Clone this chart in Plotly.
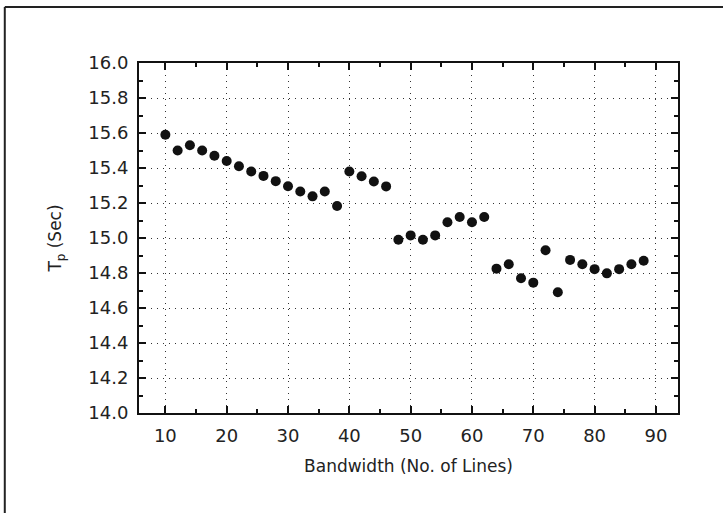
import plotly.graph_objects as go

bandwidth = [10, 12, 14, 16, 18, 20, 22, 24, 26, 28, 30, 32, 34, 36, 38,
             40, 42, 44, 46, 48, 50, 52, 54, 56, 58, 60, 62, 64, 66, 68,
             70, 72, 74, 76, 78, 80, 82, 84, 86, 88]
tp = [15.59, 15.50, 15.53, 15.50, 15.47, 15.44, 15.41, 15.38, 15.355, 15.325,
      15.296, 15.266, 15.238, 15.266, 15.183, 15.38, 15.353, 15.323, 15.295, 14.99,
      15.015, 14.99, 15.015, 15.09, 15.12, 15.09, 15.12, 14.825, 14.85, 14.77,
      14.745, 14.93, 14.69, 14.875, 14.85, 14.822, 14.798, 14.822, 14.85, 14.87]

x_ticks = [10, 20, 30, 40, 50, 60, 70, 80, 90]
y_ticks = [14.0, 14.2, 14.4, 14.6, 14.8, 15.0, 15.2, 15.4, 15.6, 15.8, 16.0]

fig = go.Figure()
fig.add_trace(go.Scatter(
    x=bandwidth, y=tp, mode="markers",
    marker=dict(color="#111111", size=10, line=dict(width=0)),
    showlegend=False,
))

tickfont = dict(family="DejaVu Sans", size=18, color="#222222")
titlefont = dict(family="DejaVu Sans", size=17, color="#222222")

common = dict(
    showline=True, linecolor="#111111", linewidth=2, mirror="allticks",
    ticks="inside", ticklen=7, tickcolor="#111111", tickwidth=1.5,
    showgrid=True, gridcolor="#333333", gridwidth=1, griddash="1px,5px",
    zeroline=False, tickfont=tickfont,
)

fig.update_xaxes(
    range=[5.7, 93.6], tickvals=x_ticks, ticktext=[str(v) for v in x_ticks],
    minor=dict(dtick=5, ticks="inside", ticklen=4, tickcolor="#111111", showgrid=False),
    ticklabelstandoff=5,
    title=dict(text="Bandwidth (No. of Lines)", font=titlefont, standoff=16),
    **common,
)
fig.update_yaxes(
    range=[14.0, 16.0], tickvals=y_ticks, ticktext=[f"{v:.1f}" for v in y_ticks],
    minor=dict(dtick=0.1, ticks="inside", ticklen=4, tickcolor="#111111", showgrid=False),
    ticklabelstandoff=5,
    title=dict(text="T<sub>p</sub> (Sec)", font=titlefont, standoff=22),
    **common,
)

# outer frame of the scanned page
fig.add_shape(type="line", xref="paper", yref="paper", x0=-0.249, x1=1.2, y0=1.16, y1=1.16,
              line=dict(color="#222222", width=2))
fig.add_shape(type="line", xref="paper", yref="paper", x0=-0.249, x1=-0.249, y0=1.16, y1=-0.29,
              line=dict(color="#222222", width=2))

fig.update_layout(
    width=723, height=513,
    margin=dict(l=139, r=45, t=63, b=100),
    paper_bgcolor="white", plot_bgcolor="white",
)

fig.write_html("out.html")
